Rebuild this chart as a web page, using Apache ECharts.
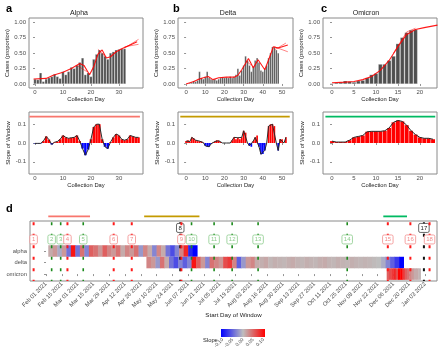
<!DOCTYPE html>
<html>
<head>
<meta charset="utf-8">
<script src="https://cdn.jsdelivr.net/npm/echarts@6/dist/echarts.min.js"></script>
<style>
html, body { margin: 0; padding: 0; background: #fff; }
#chart { width: 440px; height: 351px; }
</style>
</head>
<body>
<div id="chart"></div>
<script>
// ---- panel a/b/c: daily case proportions (index = collection day)
const alphaCases = [0.08, 0.07, 0.18, 0.04, 0.08, 0.10, 0.12, 0.16, 0.12, 0.09, 0.20, 0.15, 0.20, 0.27, 0.25, 0.30, 0.35,
  0.42, 0.15, 0.18, 0.12, 0.40, 0.48, 0.55, 0.50, 0.45, 0.40, 0.50, 0.52, 0.55, 0.56, 0.57, 0.57];
const deltaCases = [0.00, 0.01, 0.02, 0.03, 0.05, 0.04, 0.06, 0.20, 0.10, 0.08, 0.12, 0.20, 0.10, 0.08, 0.07, 0.08, 0.06,
  0.08, 0.10, 0.11, 0.10, 0.11, 0.10, 0.12, 0.10, 0.12, 0.15, 0.25, 0.14, 0.22, 0.30, 0.45, 0.38, 0.30, 0.20, 0.28,
  0.38, 0.42, 0.35, 0.22, 0.20, 0.25, 0.30, 0.42, 0.50, 0.60, 0.60, 0.55, 0.50];
const omicronCases = [0.01, 0.02, 0.03, 0.05, 0.04, 0.03, 0.05, 0.06, 0.10, 0.15, 0.17, 0.32, 0.32, 0.38, 0.45, 0.65,
  0.75, 0.83, 0.87, 0.88];

// fitted windows (red lines), [day, proportion]
const alphaFit = [[-0.5, 0.08], [4, 0.09], [6.5, 0.14], [10, 0.19], [13, 0.25], [16, 0.33], [17.5, 0.3], [19.5, 0.15],
  [21, 0.28], [22.5, 0.48], [24, 0.55], [25.5, 0.42], [27, 0.44], [29, 0.52], [31, 0.57], [34, 0.63], [36.5, 0.68]];
const alphaFan = [[[32, 0.58], [37, 0.72]], [[32, 0.6], [37, 0.64]], [[22.5, 0.56], [25, 0.45]], [[15, 0.3], [18.5, 0.2]]];
const deltaFit = [[0, 0], [4, 0.04], [6, 0.07], [9, 0.1], [11.5, 0.12], [14, 0.07], [17, 0.1], [21, 0.11], [25, 0.11],
  [27, 0.14], [29, 0.23], [32.5, 0.41], [35, 0.26], [37.5, 0.39], [41, 0.23], [43, 0.39], [45.5, 0.6], [48, 0.58], [53, 0.63]];
const deltaFan = [[[46, 0.6], [53, 0.52]], [[46, 0.55], [52, 0.66]], [[31, 0.38], [34, 0.3]]];
const omicronFit = [[0, 0.02], [3, 0.03], [5, 0.04], [7, 0.07], [9, 0.12], [11, 0.22], [13, 0.38], [15, 0.6], [17, 0.8],
  [19, 0.88], [21, 0.91], [24, 0.95]];
const omicronFan = [[[14, 0.5], [17, 0.84], [19, 0.9]]];

// slope of window per collection day (index = day)
const alphaSlope = [-0.002, -0.002, -0.002, 0.01, 0.035, 0.018, -0.008, 0.004, 0.008, 0.02, 0.04, 0.03, 0.025, 0.028,
  0.03, 0.04, 0.01, -0.03, -0.065, -0.035, 0.02, 0.085, 0.1, 0.1, 0.02, -0.02, -0.03, 0.005, 0.03, 0.048, 0.04, 0.02,
  0.015, 0.02, 0.04, 0.035, 0.03, 0.03];
const deltaSlope = [0.01, 0.015, 0.008, 0.03, 0.025, 0.015, 0.01, 0.01, 0.008, 0.002, -0.015, -0.02, -0.02, -0.005,
  0.002, 0.008, 0.015, 0.012, 0.005, 0, 0, 0, 0, 0, 0.015, 0.03, 0.02, 0.028, 0.02, 0.03, 0.065, 0.055, 0, -0.015,
  -0.02, 0.01, 0.03, 0.04, -0.02, -0.06, -0.058, -0.04, 0, 0.09, 0.1, 0.1, 0.09, 0, -0.04, 0.02, 0.02, 0, 0.03];
const omicronSlope = [0.01, 0.005, 0.005, 0.005, 0.015, 0.03, 0.035, 0.04, 0.06, 0.062, 0.062, 0.062, 0.065, 0.08,
  0.11, 0.12, 0.115, 0.095, 0.065, 0.045, 0.03, 0.025, 0.025, 0.02];

// collection window span per variant (days) and level of the colour bar
const alphaSpan = [-2, 37.5];
const deltaSpan = [-3, 54];
const omicronSpan = [-1.5, 23.5];
const spanLevel = 0.14;

// ---- panel d: slope stripes, days since Feb 01 2021, blocks of blockLen days
const alphaStripeStart = 2, alphaBlock = 4;
const alphaStripe = [0.01, 0.02, -0.01, 0.02, -0.04, 0.09, -0.04, 0.04, -0.03, 0.05, 0.04, 0.02, 0.05, 0.03, 0.02,
  0.04, 0.01, 0.03, 0.02, 0.04, -0.02, 0.03, 0.01, -0.03, 0.03, 0.01, -0.04, -0.06, -0.03, 0.03, 0.08, -0.08, -0.1];
const deltaStripeStart = 89, deltaBlock = 4;
const deltaStripe = [0.03, 0.02, -0.02, 0.04, 0.01, -0.04, -0.06, -0.03, -0.05, -0.03, 0.09, 0.05, 0.02, -0.03, 0.04,
  0.03, 0.02, 0.06, 0.07, 0.03, -0.05, -0.02, 0.02, 0.03, 0.01, 0.008, 0.012, 0.004, 0.008, 0.006, 0.004, 0.008, 0.01,
  0.006, 0.004, 0.008, 0.006, 0.004, 0.008, 0.01, 0.006, 0.004, 0.008, 0.006, 0.004, 0.008, 0.006, 0.004, 0.006, 0.004,
  0.002, 0.0, -0.01, -0.03, -0.05, -0.07, -0.1];
const omicronStripeStart = 302, omicronBlock = 2;
const omicronStripe = [0.05, 0.06, 0.07, 0.08, 0.06, 0.1, 0.1, 0.07, 0.05, 0.04, 0.03, 0.02, 0.01, 0.01, 0.005];

const variantRows = ['omicron', 'delta', 'alpha'];
const markerDays = [-11, 5, 13, 19, 33, 60, 76, 119, 120, 129, 149, 165, 188, 267, 303, 323, 335, 340];
const markerKinds = ['r', 'g', 'g', 'r', 'g', 'r', 'r', 'k', 'r', 'g', 'g', 'g', 'g', 'g', 'r', 'r', 'k', 'r'];
const markerRaised = [8, 17];
const windowSpans = [[2, 39], [87, 136], [299, 320]];

const dTickLabels = ['Feb 01 2021', 'Feb 15 2021', 'Mar 01 2021', 'Mar 15 2021', 'Mar 29 2021', 'Apr 12 2021',
  'Apr 26 2021', 'May 10 2021', 'May 24 2021', 'Jun 07 2021', 'Jun 21 2021', 'Jul 05 2021', 'Jul 19 2021',
  'Aug 02 2021', 'Aug 16 2021', 'Aug 30 2021', 'Sep 13 2021', 'Sep 27 2021', 'Oct 11 2021', 'Oct 25 2021',
  'Nov 08 2021', 'Nov 22 2021', 'Dec 06 2021', 'Dec 20 2021', 'Jan 03 2022'];
const dTickDays = dTickLabels.map((_, i) => i * 14);
const slopeTicks = [-0.1, -0.05, 0, 0.05, 0.1];

// ---- styling
const FONT = "'Liberation Sans', Arial, sans-serif";
const LBL = '#4d4d4d';
const BOX = '#8a8a8a';
const SPAN_COLORS = ['#f8766d', '#c49a00', '#00ba62'];
const MARK = { r: '#ff1a1a', g: '#1b8a1b', k: '#111111' };
const MARK_SOFT = { r: '#f28b8b', g: '#8ccb8c', k: '#444444' };

const chart = echarts.init(document.getElementById('chart'));

function gridBox(left, top, width, height, show = true) {
  return { left, top, width, height, show, borderColor: BOX, borderWidth: 1, backgroundColor: 'transparent' };
}

function axis(dir, gi, min, max, ticks, fmt, name, gap, extra = {}) {
  return Object.assign({
    type: 'value', gridIndex: gi, min, max,
    name, nameLocation: 'middle', nameGap: gap,
    nameTextStyle: { fontSize: 5.8, color: '#1a1a1a', fontFamily: FONT },
    axisLine: { show: false },
    axisTick: { show: true, length: 2, customValues: ticks, lineStyle: { color: '#666', width: 0.7 } },
    axisLabel: { fontSize: 6, color: LBL, margin: dir === 'x' ? 1.5 : 3, fontFamily: FONT, customValues: ticks, formatter: fmt },
    splitLine: { show: false },
  }, extra);
}

const propFmt = (v) => v.toFixed(2);
const slopeFmt = (v) => v.toFixed(1);
const intFmt = (v) => String(Math.round(v));

const grid = [
  gridBox(29, 18, 114, 70), gridBox(29, 112, 114, 62),
  gridBox(178, 18, 115, 70), gridBox(178, 112, 115, 62),
  gridBox(323, 18, 114, 70), gridBox(323, 112, 114, 62),
  gridBox(30, 221, 407, 60),
  gridBox(221, 329, 44, 8, false),
];

const panels = [
  { cases: alphaCases, fit: alphaFit, fan: alphaFan, slope: alphaSlope, span: alphaSpan, xmin: -2.14, xmax: 38.6,
    ticks: [0, 10, 20, 30], bar: 2.7, slopeBar: 2.5 },
  { cases: deltaCases, fit: deltaFit, fan: deltaFan, slope: deltaSlope, span: deltaSpan, xmin: -4.2, xmax: 55.7,
    ticks: [0, 10, 20, 30, 40, 50], bar: 1.9, slopeBar: 1.7 },
  { cases: omicronCases, fit: omicronFit, fan: omicronFan, slope: omicronSlope, span: omicronSpan, xmin: -2.05, xmax: 23.9,
    ticks: [0, 5, 10, 15, 20], bar: 4.1, slopeBar: 3.9 },
];

const xAxis = [], yAxis = [], series = [];
panels.forEach((p, k) => {
  const gTop = k * 2, gBot = k * 2 + 1;
  xAxis.push(axis('x', gTop, p.xmin, p.xmax, p.ticks, intFmt, 'Collection Day', 8));
  yAxis.push(axis('y', gTop, -0.065, 1.065, [0, 0.25, 0.5, 0.75, 1], propFmt, 'Cases (proportion)', 16));
  xAxis.push(axis('x', gBot, p.xmin, p.xmax, p.ticks, intFmt, 'Collection Day', 8));
  yAxis.push(axis('y', gBot, -0.165, 0.165, [-0.1, 0, 0.1], slopeFmt, 'Slope of Window', 16));

  series.push({
    type: 'bar', xAxisIndex: gTop, yAxisIndex: gTop, barWidth: p.bar,
    data: p.cases.map((v, i) => [i, v]),
    itemStyle: { color: '#4f4f4f', borderColor: '#ffffff', borderWidth: 0.3 },
  });
  [p.fit].concat(p.fan).forEach((line, j) => series.push({
    type: 'line', xAxisIndex: gTop, yAxisIndex: gTop, data: line, symbol: 'none',
    lineStyle: { color: '#ff0000', width: j === 0 ? 1.1 : 0.7, opacity: j === 0 ? 0.9 : 0.7 },
  }));
  series.push({
    type: 'bar', xAxisIndex: gBot, yAxisIndex: gBot, barWidth: p.slopeBar,
    data: p.slope.map((v, i) => [i, v]),
    itemStyle: { color: (d) => (d.value[1] >= 0 ? '#ff0000' : '#0000ff') },
  });
  series.push({
    type: 'line', xAxisIndex: gBot, yAxisIndex: gBot, symbol: 'none',
    data: p.slope.map((v, i) => [i, v]), lineStyle: { color: '#2b2b2b', width: 1 },
  });
  series.push({
    type: 'line', xAxisIndex: gBot, yAxisIndex: gBot, symbol: 'none',
    data: p.span.map((d) => [d, spanLevel]), lineStyle: { color: SPAN_COLORS[k], width: 1.8 },
  });
});

// panel d axes
xAxis.push(axis('x', 6, -14.2, 346.6, dTickDays, (v) => dTickLabels[dTickDays.indexOf(v)], 'Start Day of Window', 31, {
  axisLabel: { fontSize: 5.8, color: LBL, margin: 2, rotate: 45, fontFamily: FONT, customValues: dTickDays,
    formatter: (v) => dTickLabels[dTickDays.indexOf(Math.round(v))] },
  nameTextStyle: { fontSize: 6.2, color: '#1a1a1a', fontFamily: FONT },
}));
yAxis.push(axis('y', 6, -0.6, 4.6, [0, 1, 2], (v) => variantRows[Math.round(v)], '', 0, {
  axisLabel: { fontSize: 5.8, color: LBL, margin: 3, fontFamily: FONT, customValues: [0, 1, 2],
    formatter: (v) => variantRows[Math.round(v)] },
}));
// colour bar axes
xAxis.push(axis('x', 7, -0.108, 0.108, slopeTicks, (v) => v.toFixed(2), '', 0, {
  axisTick: { show: false },
  axisLabel: { fontSize: 4.8, color: LBL, margin: 2, rotate: 45, fontFamily: FONT, customValues: slopeTicks,
    formatter: (v) => v.toFixed(2) },
}));
yAxis.push({ type: 'value', gridIndex: 7, min: 0, max: 1, show: false });

const heatData = [];
alphaStripe.forEach((v, i) => heatData.push([alphaStripeStart + i * alphaBlock, 2, v, alphaBlock]));
deltaStripe.forEach((v, i) => heatData.push([deltaStripeStart + i * deltaBlock, 1, v, deltaBlock]));
omicronStripe.forEach((v, i) => heatData.push([omicronStripeStart + i * omicronBlock, 0, v, omicronBlock]));

const heatIndex = series.length;
series.push({
  type: 'custom', xAxisIndex: 6, yAxisIndex: 6, data: heatData, encode: { x: 0, y: 1 },
  renderItem: (params, api) => {
    const a = api.coord([api.value(0), api.value(1) + 0.5]);
    const b = api.coord([api.value(0) + api.value(3), api.value(1) - 0.5]);
    return { type: 'rect', shape: { x: a[0], y: a[1], width: b[0] - a[0] + 0.4, height: b[1] - a[1] },
      style: { fill: api.visual('color') } };
  },
});

series.push({
  type: 'custom', xAxisIndex: 6, yAxisIndex: 6, encode: { x: 0, y: 1 },
  data: markerDays.map((d, i) => [d, markerRaised.includes(i + 1) ? 4 : 3, i + 1]),
  renderItem: (params, api) => {
    const kind = markerKinds[params.dataIndex];
    const day = api.value(0), num = api.value(2);
    const top = api.coord([day, 4.5]), bot = api.coord([day, -0.6]);
    const c = api.coord([day, api.value(1)]);
    const w = num > 9 ? 10.5 : 7.5;
    return { type: 'group', children: [
      { type: 'line', shape: { x1: top[0], y1: top[1], x2: bot[0], y2: bot[1] },
        style: { stroke: MARK[kind], lineWidth: kind === 'g' ? 1.6 : 2, lineDash: [3, 8.5] } },
      { type: 'rect', shape: { x: c[0] - w / 2, y: c[1] - 4.5, width: w, height: 9, r: 1.5 },
        style: { fill: '#ffffff', stroke: MARK_SOFT[kind], lineWidth: 0.8 } },
      { type: 'text', style: { x: c[0], y: c[1] + 0.3, text: String(num), fill: kind === 'k' ? '#222' : MARK_SOFT[kind],
        fontSize: 6, fontFamily: FONT, align: 'center', verticalAlign: 'middle' } },
    ] };
  },
});

series.push({
  type: 'custom', xAxisIndex: 6, yAxisIndex: 6, clip: false, encode: { x: 0, y: 1 },
  data: windowSpans.map((s) => [s[0], 5, s[1]]),
  renderItem: (params, api) => {
    const a = api.coord([api.value(0), api.value(1)]);
    const b = api.coord([api.value(2), api.value(1)]);
    return { type: 'line', shape: { x1: a[0], y1: a[1], x2: b[0], y2: b[1] },
      style: { stroke: SPAN_COLORS[params.dataIndex], lineWidth: 1.8 } };
  },
});

series.push({
  type: 'custom', xAxisIndex: 7, yAxisIndex: 7, encode: { x: 0, y: 1 },
  data: [[-0.108, 1, 0.108, 0]],
  renderItem: (params, api) => {
    const a = api.coord([api.value(0), api.value(1)]);
    const b = api.coord([api.value(2), api.value(3)]);
    return { type: 'rect', shape: { x: a[0], y: a[1], width: b[0] - a[0], height: b[1] - a[1] },
      style: { fill: new echarts.graphic.LinearGradient(0, 0, 1, 0, [
        { offset: 0, color: '#0000ff' }, { offset: 0.5, color: '#bebebe' }, { offset: 1, color: '#ff0000' }]) } };
  },
});

const titleStyle = { fontSize: 7, fontWeight: 'normal', color: '#1a1a1a', fontFamily: FONT };
const letterStyle = { fontSize: 11, fontWeight: 'bold', color: '#000', fontFamily: FONT };

chart.setOption({
  animation: false,
  backgroundColor: '#ffffff',
  textStyle: { fontFamily: FONT },
  title: [
    { text: 'a', left: 1, top: -2, textStyle: letterStyle },
    { text: 'b', left: 168, top: -2, textStyle: letterStyle },
    { text: 'c', left: 316, top: -2, textStyle: letterStyle },
    { text: 'd', left: 1, top: 198, textStyle: letterStyle },
    { text: 'Alpha', left: 79, top: 10, textAlign: 'center', textStyle: titleStyle, padding: 0 },
    { text: 'Delta', left: 228, top: 10, textAlign: 'center', textStyle: titleStyle, padding: 0 },
    { text: 'Omicron', left: 366, top: 10, textAlign: 'center', textStyle: titleStyle, padding: 0 },
    { text: 'Slope', left: 203, top: 337, padding: 0, textStyle: { fontSize: 5.8, fontWeight: 'normal', color: '#1a1a1a', fontFamily: FONT } },
  ],
  visualMap: {
    show: false, type: 'continuous', seriesIndex: heatIndex, dimension: 2, min: -0.1, max: 0.1,
    inRange: { color: ['#0000ff', '#bebebe', '#ff0000'] },
  },
  grid, xAxis, yAxis, series,
});
</script>
</body>
</html>
